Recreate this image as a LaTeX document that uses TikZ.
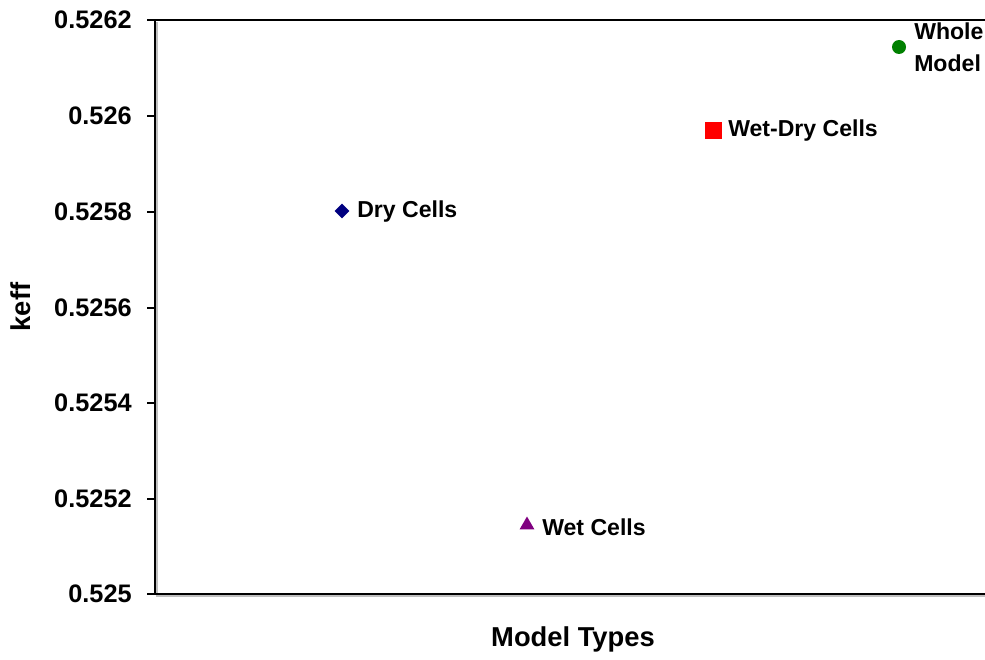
\documentclass[tikz,border=0pt]{standalone}
\usepackage{fontspec}
\setmainfont{Liberation Sans}
\usetikzlibrary{shapes.geometric}
\definecolor{dryblue}{RGB}{0,0,128}
\definecolor{wetpurple}{RGB}{128,0,128}
\definecolor{wdred}{RGB}{255,0,0}
\definecolor{wholegreen}{RGB}{0,128,0}
\tikzset{
  ticklab/.style={anchor=east, inner sep=0pt, font=\fontsize{19}{21}\selectfont\bfseries},
  ptlab/.style={anchor=west, inner sep=0pt, font=\fontsize{17.3}{24}\selectfont\bfseries, align=left},
  axlab/.style={inner sep=0pt, font=\fontsize{20.5}{22}\selectfont\bfseries},
  frame/.style={line width=2pt, black},
  shadow/.style={line width=2pt, black!25},
  tickmark/.style={line width=1.2pt, black}
}
\begin{document}
\begin{tikzpicture}[x=0.75pt, y=-0.75pt]
\useasboundingbox (0,0) rectangle (985,660);
% frame shadows
\draw[shadow] (157,22) -- (157,596) -- (985,596);
% frame
\coordinate (tl) at (155,20);
\coordinate (bl) at (155,594);
\coordinate (tr) at (990,20);
\coordinate (br) at (990,594);
\draw[frame] (tr) -- (tl) -- (bl) -- (br);
% ticks and labels
\foreach \v/\y in {0.5262/20,0.526/116,0.5258/212,0.5256/308,0.5254/403,0.5252/499,0.525/594}{
  \coordinate (t\y) at (155,\y);
  \draw[tickmark] (147,\y) -- (t\y);
  \node[ticklab] at (132,\y) {\v};
}
% axis labels
\node[axlab, rotate=90] (ylab) at (21,307) {keff};
\node[axlab] (xlab) at (573,639) {Model Types};
% data points
\node[diamond, fill=dryblue, inner sep=0pt, minimum width=15pt*0.75, minimum height=15pt*0.75] (dry) at (342,211) {};
\node[regular polygon, regular polygon sides=3, fill=wetpurple, inner sep=0pt, minimum size=17pt*0.75] (wet) at (527,525) {};
\node[rectangle, fill=wdred, inner sep=0pt, minimum size=17pt*0.75] (wd) at (713,130) {};
\node[circle, fill=wholegreen, inner sep=0pt, minimum size=14pt*0.75] (whole) at (899,47) {};
% point labels
\node[ptlab] (drylab) at (357,212) {Dry Cells};
\node[ptlab] (wetlab) at (542,527) {Wet Cells};
\node[ptlab] (wdlab) at (728,131) {Wet-Dry Cells};
\node[ptlab] (wholelab) at (914,47) {Whole\\Model};
\end{tikzpicture}
\end{document}
